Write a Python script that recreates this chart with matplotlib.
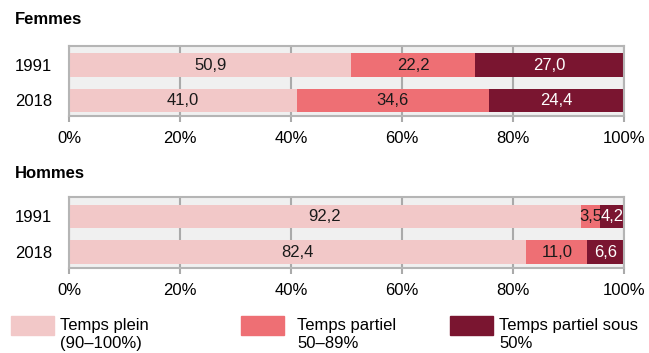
import matplotlib
matplotlib.use("Agg")
import matplotlib.pyplot as plt
from matplotlib.patches import Rectangle
import numpy as np

plt.rcParams['font.family'] = ['Liberation Sans', 'DejaVu Sans']

years = ["1991", "2018"]
groups = ["Femmes", "Hommes"]
series = ["Temps plein\n(90–100%)", "Temps partiel\n50–89%", "Temps partiel sous\n50%"]
femmes = {"plein": [50.9, 41.0], "partiel": [22.2, 34.6], "sous": [27.0, 24.4]}
hommes = {"plein": [92.2, 82.4], "partiel": [3.5, 11.0], "sous": [4.2, 6.6]}
xticks = [0, 20, 40, 60, 80, 100]
xticklabels = ["0%", "20%", "40%", "60%", "80%", "100%"]

colors = ["#f2c8c8", "#ee6f74", "#7a1530"]
text_colors = ["#1a1a1a", "#1a1a1a", "#ffffff"]
FS = 12
W, H = 649, 353
fig = plt.figure(figsize=(W / 100, H / 100), dpi=100)

def fx(px): return px / W
def fy(py): return 1 - py / H

def draw(ax, data):
    ax.set_facecolor("#f0f0f0")
    y = np.arange(len(years))
    left = np.zeros(len(years))
    keys = ["plein", "partiel", "sous"]
    for k, c, tc in zip(keys, colors, text_colors):
        vals = np.array(data[k])
        bars = ax.barh(y, vals, left=left, height=0.66, color=c, zorder=2)
        for b, v in zip(bars, vals):
            ax.text(b.get_x() + b.get_width() / 2, b.get_y() + b.get_height() / 2,
                    f"{v:.1f}".replace(".", ","), ha="center", va="center",
                    color=tc, fontsize=FS, zorder=3)
        left += vals
    ax.set_xlim(0, 100)
    ax.set_ylim(1.44, -0.54)
    ax.set_yticks(y)
    ax.set_yticklabels(years, fontsize=FS)
    ax.tick_params(axis="y", length=0, pad=12)
    ax.set_xticks(xticks)
    ax.set_xticklabels(xticklabels, fontsize=FS)
    ax.tick_params(axis="x", length=4, color="#aaaaaa", width=1.5, pad=7)
    ax.grid(axis="x", color="#aaaaaa", linewidth=1.5, zorder=1)
    for s in ax.spines.values():
        s.set_color("#b5b5b5")
        s.set_linewidth(1.5)

ax1 = fig.add_axes([fx(69), fy(116), fx(624 - 69), (116 - 46) / H])
ax2 = fig.add_axes([fx(69), fy(268), fx(624 - 69), (268 - 197) / H])
draw(ax1, femmes)
draw(ax2, hommes)

fig.text(fx(15), fy(20), groups[0], fontsize=FS, fontweight="bold", va="center", ha="left")
fig.text(fx(15), fy(173), groups[1], fontsize=FS, fontweight="bold", va="center", ha="left")

key_x = [11, 241, 450]
text_x = [60, 297, 499]
for kx, tx, c, lab in zip(key_x, text_x, colors, series):
    fig.patches.append(Rectangle((fx(kx), fy(335)), fx(43), 19 / H,
                                 transform=fig.transFigure, color=c, figure=fig))
    fig.text(fx(tx), fy(318), lab, fontsize=FS, va="top", ha="left", linespacing=1.25)

fig.savefig("out.png", dpi=100)
